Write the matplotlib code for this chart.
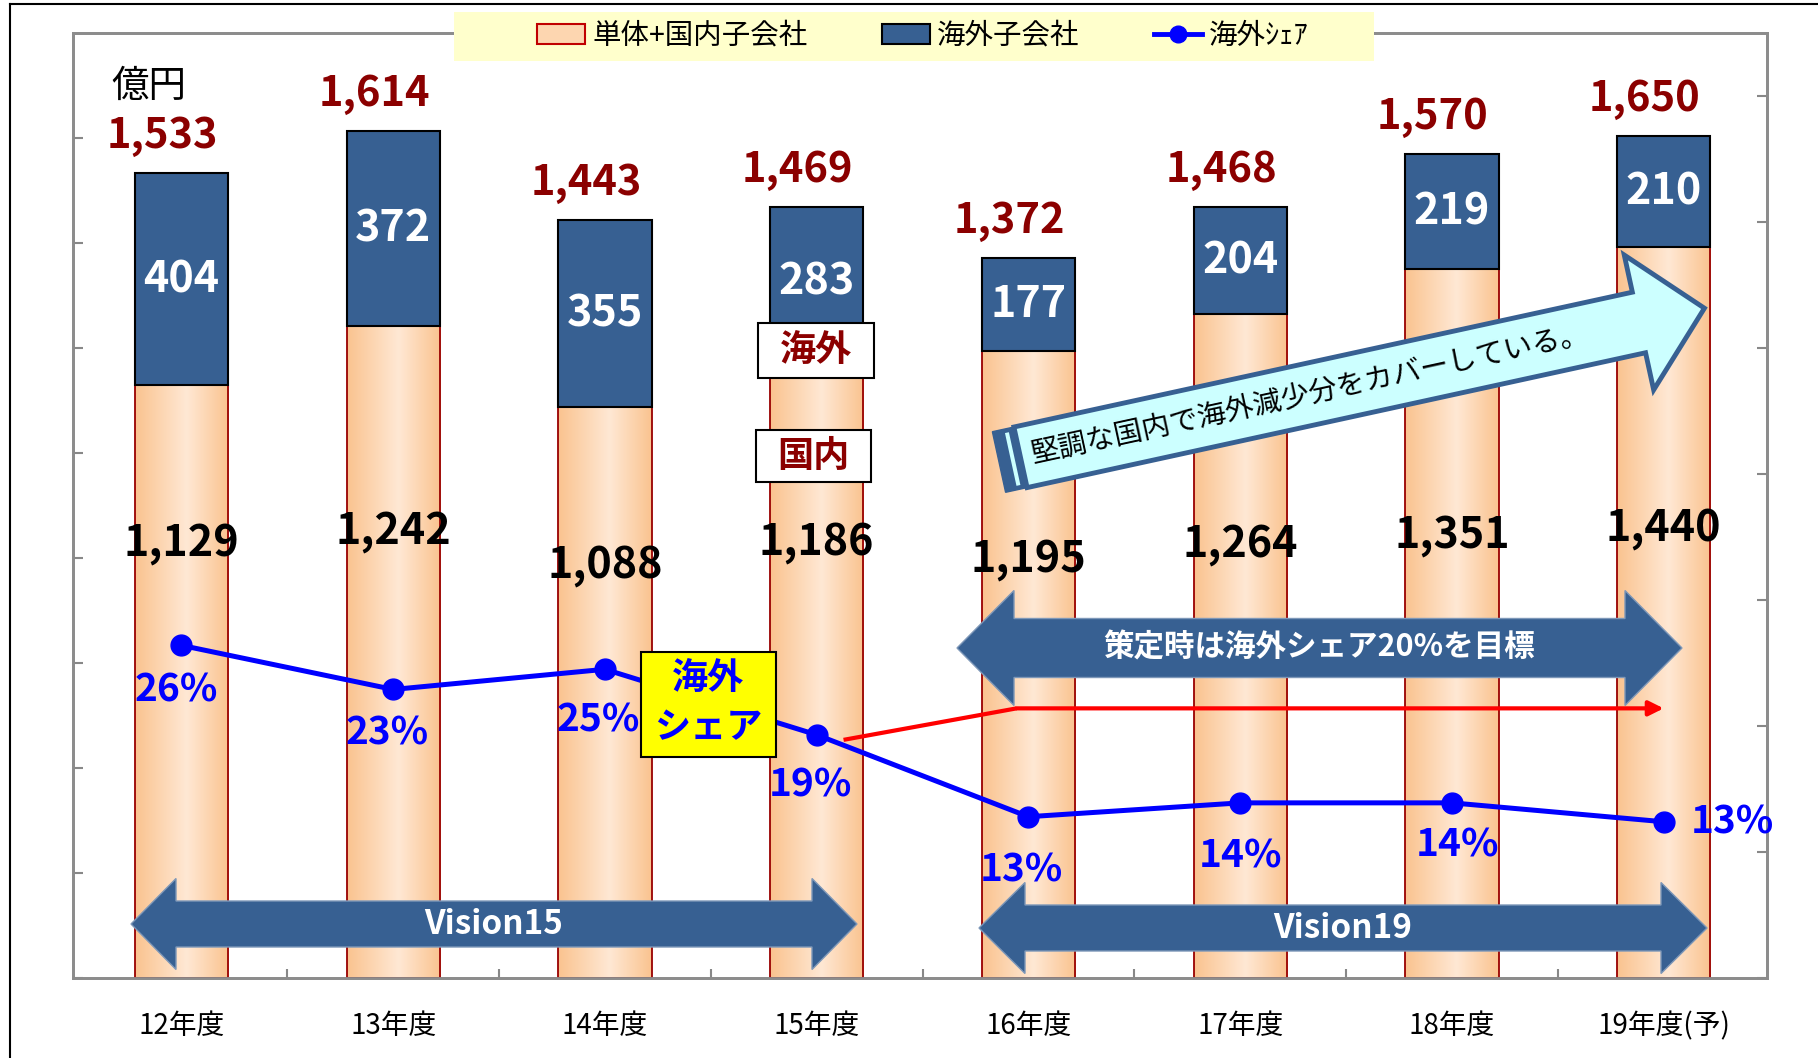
import matplotlib
matplotlib.use('Agg')
import matplotlib.pyplot as plt
import numpy as np
from matplotlib.patches import Rectangle, Polygon, Patch
from matplotlib.lines import Line2D
from matplotlib.colors import LinearSegmentedColormap

plt.rcParams['font.family'] = ['Noto Sans CJK JP', 'DejaVu Sans']

# data
years = ['12年度', '13年度', '14年度', '15年度', '16年度', '17年度', '18年度', '19年度(予)']
domestic = [1129, 1242, 1088, 1186, 1195, 1264, 1351, 1393]   # bar heights as drawn
overseas = [404, 372, 355, 283, 177, 204, 219, 210]
domestic_labels = ['1,129', '1,242', '1,088', '1,186', '1,195', '1,264', '1,351', '1,440']
total_labels = ['1,533', '1,614', '1,443', '1,469', '1,372', '1,468', '1,570', '1,650']
share = [26.4, 22.9, 24.5, 19.3, 12.8, 13.9, 13.9, 12.4]
share_labels = ['26%', '23%', '25%', '19%', '13%', '14%', '14%', '13%']

# label placement (style)
dom_label_y = [829, 851, 787, 831, 798, 827, 843, 858]
share_off = [(-5, -45), (-6, -44), (-7, -51), (-6, -50), (-7, -53), (0, -53), (6, -42), (69, 0)]

BLUE = '#376092'
DARKRED = '#8b0000'

W, H = 1818, 1058
fig = plt.figure(figsize=(W / 100, H / 100), dpi=100)
ax = fig.add_axes([73 / W, 1 - 978 / H, (1767 - 73) / W, (978 - 33) / H])

x = np.arange(len(years))
bw = 0.44
cmap = LinearSegmentedColormap.from_list('peach', [(0, '#fac38f'), (0.55, '#ffe8d4'), (1, '#fac38f')])
grad = np.linspace(0, 1, 256)[None, :]

bars = ax.bar(x, domestic, width=bw, facecolor='none', edgecolor='#990000', lw=1.3, zorder=3)
for b, xi, d in zip(bars, x, domestic):
    im = ax.imshow(grad, extent=[xi - bw / 2, xi + bw / 2, 0, d], aspect='auto', cmap=cmap, zorder=2)
    im.set_clip_path(b)
ax.bar(x, overseas, bottom=domestic, width=bw, color=BLUE, edgecolor='black', lw=1.5, zorder=3)

for xi, d, o, dl, tl, dy in zip(x, domestic, overseas, domestic_labels, total_labels, dom_label_y):
    ax.annotate(tl, (xi, d + o), xytext=(-19, 37), textcoords='offset pixels', ha='center', va='center',
                fontsize=30, fontweight='bold', color=DARKRED, zorder=6)
    ax.text(xi, d + o / 2, str(o), ha='center', va='center', fontsize=31, fontweight='bold',
            color='white', zorder=6)
    ax.text(xi, dy, dl, ha='center', va='center', fontsize=31, fontweight='bold', color='black',
            zorder=6)

ax.set_xlim(-0.512, len(years) - 0.512)
ax.set_ylim(0, 1800)
ax.set_yticks(np.arange(0, 1601, 200))
ax.set_xticks(x)
ax.set_xticklabels(years)
ax.set_xticks(x[:-1] + 0.5, minor=True)
ax.tick_params(axis='x', which='major', length=0, pad=24, labelsize=20)
ax.tick_params(axis='x', which='minor', direction='in', length=6.5, width=1.5, color='#888888')
ax.tick_params(axis='y', direction='in', length=7, width=1.5, color='#888888', labelleft=False)

ax2 = ax.twinx()
ax2.set_ylim(0, 75)
ax2.set_yticks(np.arange(0, 71, 10))
ax2.tick_params(axis='y', direction='in', length=7, width=1.5, color='#888888', labelright=False)
for a in (ax, ax2):
    for s in a.spines.values():
        s.set_color('#8c8c8c')
        s.set_linewidth(2)

ax2.plot(x, share, color='#0000ff', lw=3.6, marker='o', ms=15, zorder=5)
for xi, s, sl, off in zip(x, share, share_labels, share_off):
    ax2.annotate(sl, (xi, s), xytext=off, textcoords='offset pixels', ha='center', va='center',
                 fontsize=28, fontweight='bold', color='#0000ff', zorder=6)

# 20% target arrow
ax2.plot([3.127, 3.944], [18.9, 21.4], color='red', lw=3, solid_capstyle='butt', zorder=4)
ax2.annotate('', xy=(7.0, 21.4), xytext=(3.944, 21.4),
             arrowprops=dict(arrowstyle='-|>', color='red', lw=3, mutation_scale=22, shrinkA=0, shrinkB=0))

# overlay in pixel coords for the callouts
ov = fig.add_axes([0, 0, 1, 1], zorder=10)
ov.set_xlim(0, W)
ov.set_ylim(H, 0)
ov.axis('off')
ov.patch.set_alpha(0)

ov.plot([10, W], [4, 4], color='black', lw=1.5)
ov.plot([10, 10], [4, H], color='black', lw=1.5)

ov.add_patch(Rectangle((454, 12), 920, 49, facecolor='#ffffcc', edgecolor='none'))
handles = [Patch(facecolor='#fdd6b0', edgecolor='#c00000', lw=1.5),
           Patch(facecolor=BLUE, edgecolor='black', lw=1.5),
           Line2D([], [], color='#0000ff', lw=3.5, marker='o', ms=12)]
leg = fig.legend(handles, ['単体+国内子会社', '海外子会社', '海外ｼｪｱ'], ncol=3, frameon=False,
                 loc='center', bbox_to_anchor=(923 / W, 1 - 36 / H), fontsize=20.5,
                 handlelength=1.7, handletextpad=0.25, columnspacing=2.6)
leg.set_zorder(20)

ov.text(149, 86, '億円', ha='center', va='center', fontsize=27)


def double_arrow(x0, x1, yc, bh, hh, hl, label, size):
    pts = [(x0, yc), (x0 + hl, yc - hh / 2), (x0 + hl, yc - bh / 2), (x1 - hl, yc - bh / 2),
           (x1 - hl, yc - hh / 2), (x1, yc), (x1 - hl, yc + hh / 2), (x1 - hl, yc + bh / 2),
           (x0 + hl, yc + bh / 2), (x0 + hl, yc + hh / 2)]
    ov.add_patch(Polygon(pts, closed=True, facecolor=BLUE, edgecolor='#7d97b8', lw=1))
    ov.text((x0 + x1) / 2, yc, label, ha='center', va='center', fontsize=size, fontweight='bold',
            color='white')


double_arrow(131, 857, 924, 46, 91, 45, 'Vision15', 24)
double_arrow(979, 1707, 928, 46, 91, 46, 'Vision19', 24)
double_arrow(957, 1682, 648, 59, 115, 57, '策定時は海外シェア20%を目標', 22)

# callout boxes
ov.add_patch(Rectangle((758, 323), 116, 55, facecolor='white', edgecolor='black', lw=1.5))
ov.text(816, 351, '海外', ha='center', va='center', fontsize=26, fontweight='bold', color=DARKRED)
ov.add_patch(Rectangle((756, 430), 115, 52, facecolor='white', edgecolor='black', lw=1.5))
ov.text(813, 456, '国内', ha='center', va='center', fontsize=26, fontweight='bold', color=DARKRED)
ov.add_patch(Rectangle((641, 652), 135, 105, facecolor='#ffff00', edgecolor='black', lw=1.5))
ov.text(708, 679, '海外', ha='center', va='center', fontsize=26, fontweight='bold', color='#0000ff')
ov.text(708, 728, 'シェア', ha='center', va='center', fontsize=26, fontweight='bold', color='#0000ff')

# big cyan arrow
ang = np.deg2rad(12.3)
d = np.array([np.cos(ang), -np.sin(ang)])
n = np.array([np.sin(ang), np.cos(ang)])
T = np.array([999, 462])


def loc(u, v):
    return T + u * d + v * n


body = [loc(22, -31), loc(655, -31), loc(655, -69), loc(722, 0), loc(655, 69), loc(655, 31), loc(22, 31)]
ov.add_patch(Polygon(body, closed=True, facecolor='#ccffff', edgecolor=BLUE, lw=3.5, joinstyle='miter'))
ov.add_patch(Polygon([loc(0, -31), loc(22, -31), loc(22, 31), loc(0, 31)], closed=True,
                     facecolor=BLUE, edgecolor=BLUE, lw=1))
ov.add_patch(Polygon([loc(12, -27), loc(16, -27), loc(16, 27), loc(12, 27)], closed=True,
                     facecolor='#ccffff', edgecolor='none'))
c = loc(318, 0)
ov.text(c[0], c[1], '堅調な国内で海外減少分をカバーしている。', ha='center', va='center',
        rotation=12.3, rotation_mode='anchor', fontsize=20.5, color='black')

fig.savefig('out.png', dpi=100)
